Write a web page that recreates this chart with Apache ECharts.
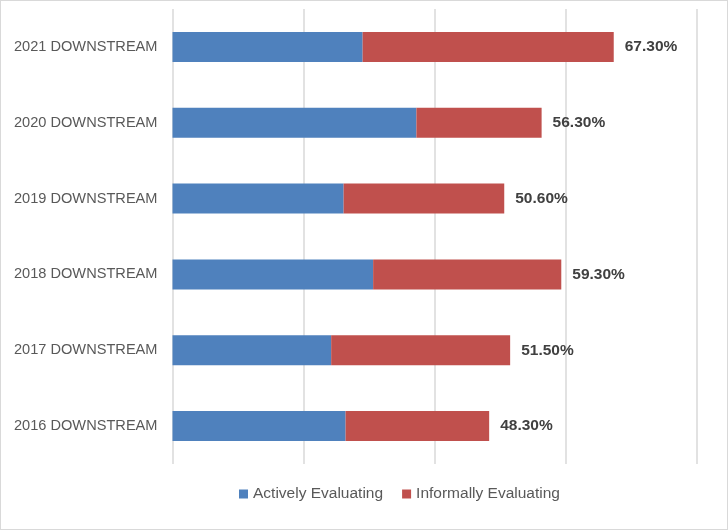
<!DOCTYPE html>
<html>
<head>
<meta charset="utf-8">
<script src="https://cdn.jsdelivr.net/npm/echarts@6/dist/echarts.min.js"></script>
<style>
html,body{margin:0;padding:0;background:#fff;}
#c{width:726px;height:528px;border:1px solid #d9d9d9;}
</style>
</head>
<body>
<div id="c"></div>
<script>
const categories = ['2016 DOWNSTREAM','2017 DOWNSTREAM','2018 DOWNSTREAM','2019 DOWNSTREAM','2020 DOWNSTREAM','2021 DOWNSTREAM'];
const activelyEvaluating = [26.4, 24.2, 30.6, 26.1, 37.2, 29.0];
const informallyEvaluating = [21.9, 27.3, 28.7, 24.5, 19.1, 38.3];
const totals = [48.3, 51.5, 59.3, 50.6, 56.3, 67.3];

const chart = echarts.init(document.getElementById('c'));
chart.setOption({
  animation: false,
  textStyle: {fontFamily: 'Liberation Sans, Arial, sans-serif'},
  grid: {left: 171.5, right: 30, top: 8, height: 455, containLabel: false},
  legend: {
    bottom: 22, left: 233, itemWidth: 9, itemHeight: 9, itemGap: 19,
    icon: 'rect',
    textStyle: {color: '#595959', fontSize: 15.5, fontFamily: 'Liberation Sans, Arial, sans-serif'},
    data: ['Actively Evaluating', 'Informally Evaluating']
  },
  xAxis: {
    type: 'value', min: 0, max: 80, interval: 20,
    axisLabel: {show: false},
    axisLine: {show: false}, axisTick: {show: false},
    splitLine: {show: true, lineStyle: {color: '#d9d9d9', width: 1.5}}
  },
  yAxis: {
    type: 'category', data: categories,
    axisLine: {show: false}, axisTick: {show: false},
    axisLabel: {color: '#595959', fontSize: 14.6, margin: 15}
  },
  series: [
    {
      name: 'Actively Evaluating', type: 'bar', stack: 'a', barWidth: 30,
      data: activelyEvaluating,
      itemStyle: {color: '#4f81bd'}
    },
    {
      name: 'Informally Evaluating', type: 'bar', stack: 'a', barWidth: 30,
      data: informallyEvaluating,
      itemStyle: {color: '#c0504d'},
      label: {
        show: true, position: 'right', distance: 11,
        color: '#404040', fontWeight: 'bold', fontSize: 15.5,
        formatter: p => totals[p.dataIndex].toFixed(2) + '%'
      }
    }
  ]
});
</script>
</body>
</html>
